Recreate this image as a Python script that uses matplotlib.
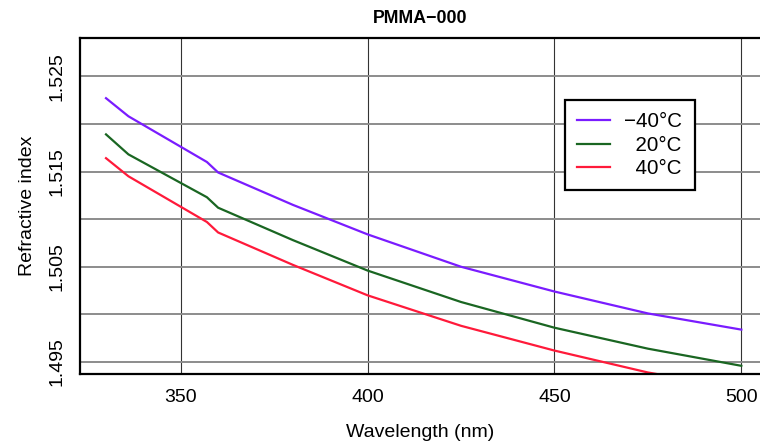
import matplotlib.pyplot as plt
from matplotlib.ticker import FixedLocator

plt.rcParams['font.family'] = ['Liberation Sans', 'DejaVu Sans']

# data
wavelength = [330, 336, 350, 357, 360, 380, 400, 425, 450, 475, 500]
n_minus40 = [1.5227, 1.5208, 1.5176, 1.5160, 1.5149, 1.5115, 1.5084, 1.5050, 1.5024, 1.5001, 1.4984]
n_20 = [1.5189, 1.5168, 1.5138, 1.5123, 1.5112, 1.5078, 1.5046, 1.5013, 1.4986, 1.4964, 1.4946]
n_40 = [1.5164, 1.5145, 1.5113, 1.5097, 1.5086, 1.5052, 1.5020, 1.4988, 1.4962, 1.4939, 1.4922]

labels = ['\u221240\u00b0C', '  20\u00b0C', '  40\u00b0C']
colors = ['#7a1cff', '#1a6622', '#ff1a3a']

x_ticks = [350, 400, 450, 500]
y_ticks = [1.495, 1.505, 1.515, 1.525]
y_minor = [1.500, 1.510, 1.520]

fig = plt.figure(figsize=(7.6, 4.43), dpi=100)
ax = fig.add_axes([80 / 760, 69 / 443, 680 / 760, 336 / 443])

for series, lab, col in zip([n_minus40, n_20, n_40], labels, colors):
    ax.plot(wavelength, series, color=col, lw=1.6, label=lab)

ax.set_xlim(323.04, 505.0)
ax.set_ylim(1.49374, 1.52902)

ax.xaxis.set_major_locator(FixedLocator(x_ticks))
ax.yaxis.set_major_locator(FixedLocator(y_ticks))
ax.yaxis.set_minor_locator(FixedLocator(y_minor))
ax.set_yticklabels(['%.3f' % v for v in y_ticks], rotation=90, va='center')

ax.grid(True, axis='x', color='#333333', lw=0.8)
ax.grid(True, axis='y', which='both', color='#8c8c8c', lw=1.4)
ax.set_axisbelow(True)

ax.tick_params(axis='both', which='both', length=0, labelsize=14)
ax.tick_params(axis='x', pad=11)
ax.tick_params(axis='y', pad=10.5)

for side in ['left', 'bottom', 'top']:
    ax.spines[side].set_linewidth(1.6)
ax.spines['right'].set_visible(False)

ax.set_title('PMMA\u2212000', fontsize=12.8, fontweight='bold', pad=11)
ax.set_xlabel('Wavelength (nm)', fontsize=14, labelpad=12.5)
ax.set_ylabel('Refractive index', fontsize=14, labelpad=9)

leg = ax.legend(loc='upper left', bbox_to_anchor=(0.713, 0.815), borderaxespad=0,
                fontsize=14.8, handlelength=1.6, handletextpad=0.7,
                labelspacing=0.21, borderpad=0.6, fancybox=False,
                framealpha=1, edgecolor='black')
leg.get_frame().set_linewidth(1.6)

fig.savefig('out.png', dpi=100)
